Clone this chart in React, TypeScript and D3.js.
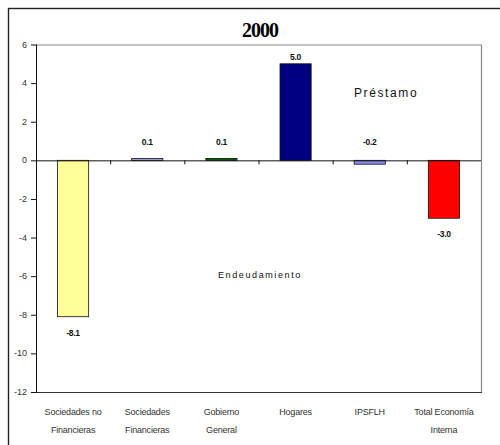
import React from "react";
import * as d3 from "d3";

// Net lending / borrowing by institutional sector, year 2000
const categories: string[][] = [
  ["Sociedades no", "Financieras"],
  ["Sociedades", "Financieras"],
  ["Gobierno", "General"],
  ["Hogares"],
  ["IPSFLH"],
  ["Total Economía", "Interna"],
];
const values: number[] = [-8.1, 0.1, 0.1, 5.0, -0.2, -3.0];
const barColors: string[] = ["#FFFF99", "#A6A6E6", "#006400", "#000080", "#8C8CF0", "#FF0000"];
const yTicks: number[] = [6, 4, 2, 0, -2, -4, -6, -8, -10, -12];
const title = "2000";
const upperNote = "Préstamo";
const lowerNote = "Endeudamiento";

const W = 500;
const H = 445;
const plot = { left: 36, right: 481, top: 44.5, bottom: 392 };

export default function App() {
  const x = d3
    .scaleBand<number>()
    .domain(values.map((_, i) => i))
    .range([plot.left, plot.right]);
  const y = d3.scaleLinear().domain([-12, 6]).range([plot.bottom, plot.top]);
  const bw = x.bandwidth() * 0.42;
  const y0 = y(0);
  const sans = "Arial, 'Liberation Sans', sans-serif";

  const labelY = (v: number) => {
    if (Math.abs(v) < 1) return y0 - 15;
    if (v > 0) return y(v) - 4;
    return y(v) + 19;
  };

  return (
    <svg
      width={W}
      height={H}
      style={{ position: "absolute", left: 0, top: 0, background: "#fff" }}
    >
      {/* outer frame */}
      <rect x={8.5} y={8.5} width={W} height={H} fill="none" stroke="#222" strokeWidth={1.4} />

      <text
        x={260}
        y={37}
        textAnchor="middle"
        fontFamily="'Liberation Serif', 'Times New Roman', serif"
        fontWeight="bold"
        fontSize={20}
        letterSpacing={-1}
      >
        {title}
      </text>

      {/* plot area border */}
      <path
        d={`M${plot.left},${plot.top + 0.5}H${plot.right + 0.5}V${plot.bottom + 0.5}`}
        fill="none"
        stroke="#888"
        strokeWidth={1.2}
      />
      <line x1={plot.left} x2={plot.right + 1} y1={plot.bottom + 0.5} y2={plot.bottom + 0.5} stroke="#333" />

      {/* bars */}
      {values.map((v, i) => {
        const cx = (x(i) as number) + x.bandwidth() / 2;
        const top = Math.min(y(v), y0);
        const h = Math.abs(y(v) - y0);
        return (
          <rect
            key={i}
            x={cx - bw / 2}
            y={top}
            width={bw}
            height={Math.max(h, 1.5)}
            fill={barColors[i]}
            stroke="#111"
            strokeWidth={0.8}
          />
        );
      })}

      {/* zero axis with category ticks */}
      <line x1={plot.left} x2={plot.right} y1={y0 + 0.5} y2={y0 + 0.5} stroke="#111" />
      {values.map((_, i) =>
        i === 0 ? null : (
          <line
            key={i}
            x1={(x(i) as number) + 0.5}
            x2={(x(i) as number) + 0.5}
            y1={y0}
            y2={y0 + 4}
            stroke="#111"
          />
        )
      )}

      {/* value axis */}
      <line x1={plot.left + 0.5} x2={plot.left + 0.5} y1={plot.top} y2={plot.bottom + 1} stroke="#111" />
      {yTicks.map((t) => (
        <g key={t}>
          <line x1={plot.left - 5} x2={plot.left} y1={y(t) + 0.5} y2={y(t) + 0.5} stroke="#111" />
          <text
            x={plot.left - 9}
            y={y(t) + 3}
            textAnchor="end"
            fontFamily={sans}
            fontSize={9}
            fill="#333"
          >
            {t}
          </text>
        </g>
      ))}

      {/* value labels */}
      {values.map((v, i) => (
        <text
          key={i}
          x={(x(i) as number) + x.bandwidth() / 2}
          y={labelY(v)}
          textAnchor="middle"
          fontFamily={sans}
          fontWeight="bold"
          fontSize={8.5}
          letterSpacing={-0.3}
          fill="#111"
        >
          {v.toFixed(1)}
        </text>
      ))}

      {/* category labels */}
      {categories.map((lines, i) => (
        <text
          key={i}
          x={(x(i) as number) + x.bandwidth() / 2}
          textAnchor="middle"
          fontFamily={sans}
          fontSize={9}
          letterSpacing={-0.2}
          fill="#333"
        >
          {lines.map((ln, j) => (
            <tspan key={j} x={(x(i) as number) + x.bandwidth() / 2} y={415 + j * 18}>
              {ln}
            </tspan>
          ))}
        </text>
      ))}

      <text x={354} y={96.5} fontFamily={sans} fontSize={12} letterSpacing={1.6} fill="#111">
        {upperNote}
      </text>
      <text x={218} y={278} fontFamily={sans} fontSize={9} letterSpacing={1.6} fill="#111">
        {lowerNote}
      </text>
    </svg>
  );
}
